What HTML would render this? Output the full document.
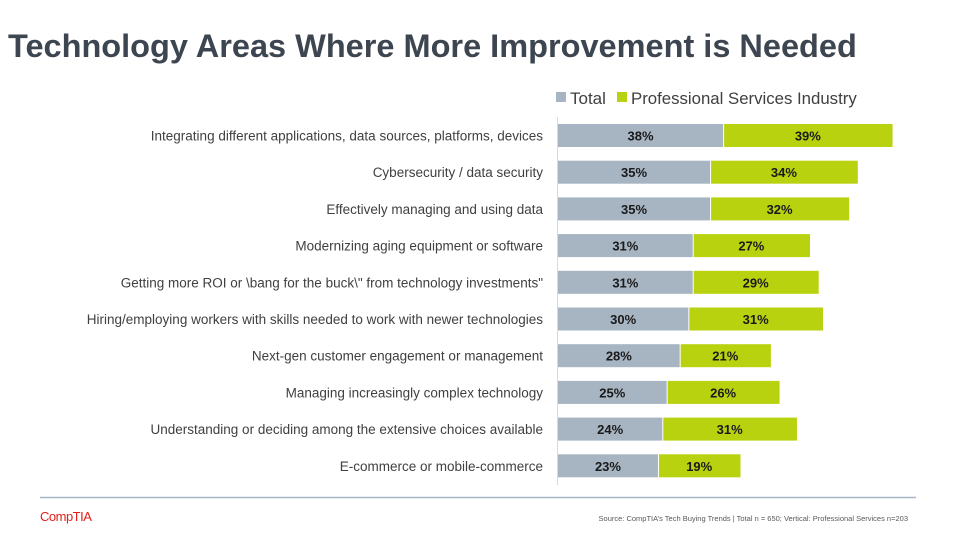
<!DOCTYPE html>
<html><head><meta charset="utf-8"><style>
body{margin:0;background:#fff;}
svg{display:block;font-family:"Liberation Sans",sans-serif;}
</style></head><body>
<svg id="chart" width="960" height="540" viewBox="0 0 960 540">
<text x="8" y="57" font-size="32.5" font-weight="bold" fill="#3d4650">Technology Areas Where More Improvement is Needed</text>
<g>
<rect x="556" y="92" width="10" height="10" fill="#a7b4c2"/>
<text x="570" y="104" font-size="17" fill="#404040">Total</text>
<rect x="617" y="92" width="10" height="10" fill="#b9d20f"/>
<text x="631" y="104" font-size="16.8" fill="#404040">Professional Services Industry</text>
</g>
<g id="bars"></g>
<line x1="557.5" y1="117" x2="557.5" y2="485" stroke="#d9d9d9"/>
<line x1="40" y1="497.5" x2="916" y2="497.5" stroke="#a7b4c2" stroke-width="1.5"/>
<text x="40" y="521" font-size="13" fill="#e0201b" letter-spacing="-0.5">CompTIA</text>
<text x="908" y="521" font-size="7.5" fill="#595959" text-anchor="end">Source:  CompTIA’s Tech Buying Trends | Total  n = 650; Vertical:  Professional  Services n=203</text>
</svg>
<script>
const categories=["Integrating different applications, data sources, platforms, devices","Cybersecurity / data security","Effectively managing and using data","Modernizing aging equipment or software","Getting more ROI or \\bang for the buck\\\" from technology investments\"","Hiring/employing workers with skills needed to work with newer technologies","Next-gen customer engagement or management","Managing increasingly complex technology","Understanding or deciding among the extensive choices available","E-commerce or mobile-commerce"];
const totalValues=[38,35,35,31,31,30,28,25,24,23];
const proValues=[39,34,32,27,29,31,21,26,31,19];
const NS="http://www.w3.org/2000/svg";
const x0=558, pxPer=4.345, rowTop=135.5, rowStep=36.7, barH=23;
const xScale=v=>v*pxPer;
const yScale=i=>rowTop+i*rowStep;
const g=document.getElementById('bars');
function mk(tag,attrs){const e=document.createElementNS(NS,tag);for(const k in attrs)e.setAttribute(k,attrs[k]);return e;}
categories.forEach((c,i)=>{
  const cy=yScale(i);
  const lab=mk('text',{x:543,y:cy+5,'font-size':13.5,fill:'#404040','text-anchor':'end'});
  
  
  lab.textContent=c;g.appendChild(lab);
  const w1=xScale(totalValues[i]);
  const r1=mk('rect',{x:x0,y:cy-barH/2,width:w1,height:barH,fill:'#a7b4c2'});
  
  
  g.appendChild(r1);
  const w2=xScale(proValues[i]);
  const r2=mk('rect',{x:x0+w1+1,y:cy-barH/2,width:w2-1,height:barH,fill:'#b9d20f'});
  
  
  g.appendChild(r2);
  const t1=mk('text',{x:x0+w1/2,y:cy+5,'font-size':13,'font-weight':'bold',fill:'#1a1a1a','text-anchor':'middle'});
  
  
  t1.textContent=totalValues[i]+'%';g.appendChild(t1);
  const t2=mk('text',{x:x0+w1+w2/2,y:cy+5,'font-size':13,'font-weight':'bold',fill:'#1a1a1a','text-anchor':'middle'});
  
  
  t2.textContent=proValues[i]+'%';g.appendChild(t2);
});
</script>
</body></html>
